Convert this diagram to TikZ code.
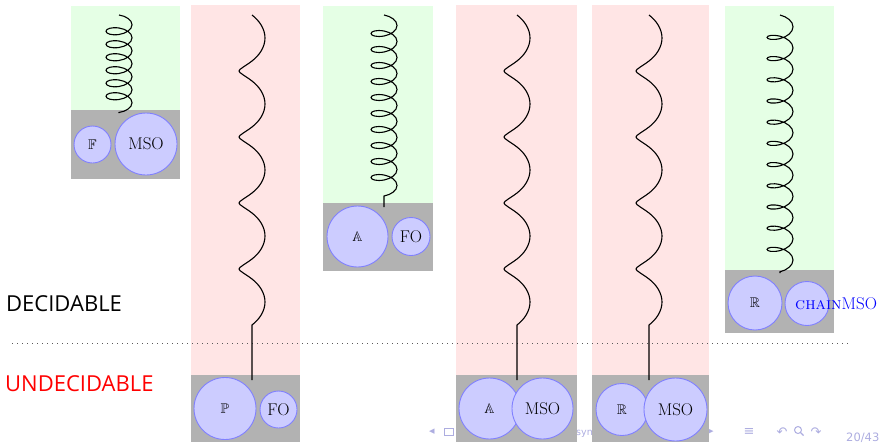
\documentclass[tikz,border=0pt]{standalone}
\usepackage{amssymb}
\usepackage{fontspec}
\setsansfont{Open Sans}
\newfontfamily\navfont{DejaVu Sans}
\usetikzlibrary{decorations.pathmorphing}
\definecolor{navcol}{rgb}{0.68,0.68,0.88}
\tikzset{
  greenbox/.style={fill=green!10},
  pinkbox/.style={fill=red!10},
  graybox/.style={fill=black!30},
  circ/.style={circle, draw=blue!50, fill=blue!20, line width=0.9pt, inner sep=0pt,
    font=\fontsize{17}{20}\selectfont},
  bbcirc/.style={circ, font=\fontsize{14}{16}\selectfont},
  spring/.style={draw, line width=1.1pt, decorate,
    decoration={coil, amplitude=13pt, aspect=0.5, segment length=#1}},
  dotline/.style={draw=black!65, line width=0.9pt, dash pattern=on 0.9pt off 4.1pt},
  navtext/.style={inner sep=0pt, text=navcol, font=\navfont\fontsize{11}{13}\selectfont},
  bigword/.style={anchor=base west, inner sep=0pt, font=\sffamily\fontsize{22}{26}\selectfont},
}
\begin{document}
\begin{tikzpicture}[x=1pt,y=-1pt]
\useasboundingbox (0,0) rectangle (880,442);
% navigation symbols (behind)
\node[navtext] (navl) at (432,432) {◂};
\node[draw=navcol, line width=0.9pt, minimum width=9pt, minimum height=7pt, inner sep=0pt] (navrect) at (449,432) {};
\node[navtext, anchor=west, font=\navfont\fontsize{9.5}{11}\selectfont] (navsym) at (576,434) {sym};
\node[navtext] (navr) at (711,432) {▸};
\node[navtext, font=\navfont\fontsize{13}{15}\selectfont] (navlist) at (749,432) {≡};
\node[navtext, font=\navfont\fontsize{13}{15}\selectfont] (navback) at (782,432) {↶};
\node[draw=navcol, circle, line width=1pt, minimum size=7pt, inner sep=0pt] (navmag) at (798,430) {};
\coordinate (navmagend) at (803.5,435.5);
\draw[navcol, line width=1.2pt] (navmag.south east) -- (navmagend);
\node[navtext, font=\navfont\fontsize{13}{15}\selectfont] (navfwd) at (816,432) {↷};
\node[navtext, anchor=base west, font=\navfont\fontsize{11.5}{14}\selectfont] (page) at (846,441) {20/43};

% column boxes
\path[greenbox] (71,6) rectangle (180,110);
\path[graybox] (71,110) rectangle (180,179);
\path[pinkbox] (191,5) rectangle (300,375);
\path[graybox] (191,375) rectangle (300,442);
\path[greenbox] (323,6) rectangle (433,203);
\path[graybox] (323,203) rectangle (433,271);
\path[pinkbox] (456,5) rectangle (577,375);
\path[graybox] (456,375) rectangle (577,442);
\path[pinkbox] (592,5) rectangle (709,375);
\path[graybox] (592,375) rectangle (709,442);
\path[greenbox] (725,6) rectangle (834,270);
\path[graybox] (725,270) rectangle (834,333);

% dotted separator
\coordinate (dl) at (12,343);
\coordinate (dr) at (848,343);
\draw[dotline] (dl) -- (dr);

% labels
\node[bigword] (dec) at (6,311) {DECIDABLE};
\node[bigword, text=red] (undec) at (5,391) {UNDECIDABLE};

% springs and snakes
\coordinate (t1) at (119,15);  \coordinate (b1) at (119,113);
\coordinate (t2) at (252,15);  \coordinate (b2) at (252,380);
\coordinate (t3) at (384,15);  \coordinate (b3) at (384,207);
\coordinate (t4) at (517,15);  \coordinate (b4) at (517,380);
\coordinate (t5) at (649,15);  \coordinate (b5) at (649,380);
\coordinate (t6) at (780,15);  \coordinate (b6) at (780,273);
\draw[spring=13pt] (t1) -- (b1);
\draw[spring=66pt] (t2) -- (b2);
\draw[spring=16pt] (t3) -- (b3);
\draw[spring=66pt] (t4) -- (b4);
\draw[spring=66pt] (t5) -- (b5);
\draw[spring=21.2pt] (t6) -- (b6);

% circles
\node[bbcirc, minimum size=37pt] (F1) at (92.5,144.5) {$\mathbb{F}$};
\node[circ, minimum size=62pt] (MSO1) at (146,144) {MSO};
\node[bbcirc, minimum size=62pt] (P2) at (225,408.5) {$\mathbb{P}$};
\node[circ, minimum size=37pt] (FO2) at (278.5,409.5) {FO};
\node[bbcirc, minimum size=61pt] (A3) at (357.5,236.5) {$\mathbb{A}$};
\node[circ, minimum size=38pt] (FO3) at (411,236.5) {FO};
\node[bbcirc, minimum size=61pt] (A4) at (489.5,408.5) {$\mathbb{A}$};
\node[circ, minimum size=61pt] (MSO4) at (542.5,408.5) {MSO};
\node[bbcirc, minimum size=52pt] (R5) at (622,409.5) {$\mathbb{R}$};
\node[circ, minimum size=63pt] (MSO5) at (675.5,409.5) {MSO};
\node[bbcirc, minimum size=54pt] (R6) at (755,303) {$\mathbb{R}$};
\node[circ, minimum size=44pt] (C6) at (807,303.5) {};
\node[inner sep=0pt, anchor=west, text=blue, font=\fontsize{17}{20}\selectfont] (chain) at (795,303.5) {\textsc{chain}MSO};
\end{tikzpicture}
\end{document}
